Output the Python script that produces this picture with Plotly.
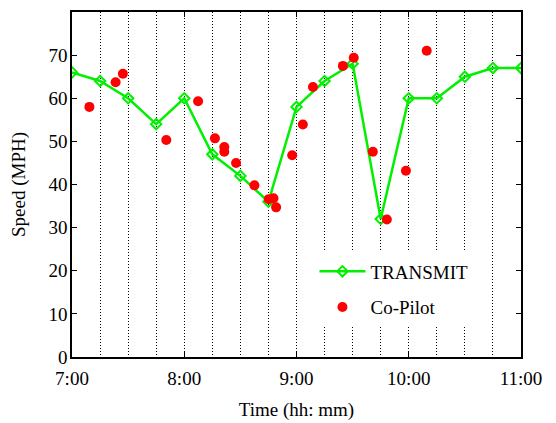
import plotly.graph_objects as go

# Time axis: minutes after 7:00
tick_minutes = [0, 60, 120, 180, 240]
tick_labels = ["7:00", "8:00", "9:00", "10:00", "11:00"]
speed_ticks = [0, 10, 20, 30, 40, 50, 60, 70]

# TRANSMIT estimates, one every 15 minutes
transmit_min = [0, 15, 30, 45, 60, 75, 90, 105, 120, 135, 150, 165, 180, 195, 210, 225, 240]
transmit_mph = [66, 64, 60, 54, 60, 47, 42, 36, 58, 64, 68, 32, 60, 60, 65, 67, 67]

# Co-Pilot probe vehicle readings
copilot_min = [9.3, 23.3, 27.2, 50.4, 67.4, 76.4, 81.4, 81.4, 87.7, 97.5, 105.2, 107.7,
               109.1, 117.7, 123.4, 128.8, 144.8, 150.6, 160.8, 168.3, 178.5, 189.6]
copilot_mph = [58, 63.7, 65.7, 50.3, 59.3, 50.7, 48.7, 47.6, 45, 39.8, 36.6, 36.8,
               34.7, 46.8, 53.9, 62.6, 67.5, 69.4, 47.6, 31.9, 43.2, 71]

FONT = "'Liberation Serif', 'Times New Roman', Times, serif"
GREEN = "#00f000"
RED = "#ff0000"

fig = go.Figure()
fig.add_trace(go.Scatter(
    x=transmit_min, y=transmit_mph, name="TRANSMIT", mode="lines+markers",
    line=dict(color=GREEN, width=2.5),
    marker=dict(symbol="diamond-open", size=8, color=GREEN, line=dict(width=2, color=GREEN)),
    legendgroup="a",
))
fig.add_trace(go.Scatter(
    x=copilot_min, y=copilot_mph, name="Co-Pilot", mode="markers",
    marker=dict(symbol="circle", size=10, color=RED),
    legendgroup="b",
))

fig.update_layout(
    width=556, height=423,
    margin=dict(l=72, r=35, t=12, b=66, autoexpand=False),
    paper_bgcolor="white", plot_bgcolor="white",
    font=dict(family=FONT, size=19, color="black"),
    legend=dict(
        x=0.54, y=0.303, xanchor="left", yanchor="top",
        bgcolor="white", borderwidth=0,
        font=dict(family=FONT, size=19, color="black"),
        traceorder="grouped", tracegroupgap=8, itemwidth=46,
    ),
    xaxis=dict(
        range=[0, 240], tickvals=tick_minutes, ticktext=tick_labels,
        showline=True, linecolor="black", linewidth=1.5, mirror="ticks",
        ticks="inside", ticklen=5, tickcolor="black",
        showgrid=False, zeroline=False, automargin=False,
        minor=dict(tick0=0, dtick=15, showgrid=True, gridcolor="black",
                   griddash="1px,2px", gridwidth=1, ticks=""),
        title=dict(text="Time (hh: mm)", font=dict(family=FONT, size=19), standoff=15),
        ticklabelstandoff=3,
    ),
    yaxis=dict(
        range=[0, 80], tickvals=speed_ticks,
        showline=True, linecolor="black", linewidth=1.5, mirror="ticks",
        ticks="inside", ticklen=5, tickcolor="black",
        showgrid=False, zeroline=False, automargin=False,
        title=dict(text="Speed (MPH)", font=dict(family=FONT, size=19), standoff=18),
        ticklabelstandoff=-1,
    ),
)

fig.write_html("out.html")
